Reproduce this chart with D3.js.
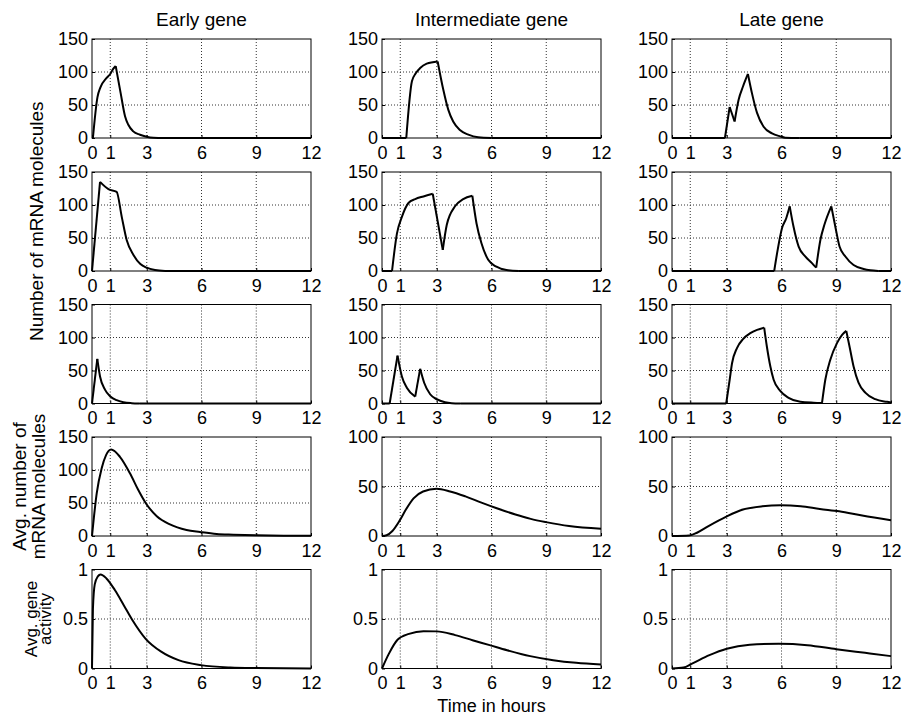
<!DOCTYPE html>
<html><head><meta charset="utf-8">
<script src="https://cdn.jsdelivr.net/npm/d3@7"></script>
<style>
body{margin:0;background:#fff;}
svg{display:block;font-family:"Liberation Sans",Arial,Helvetica,sans-serif;}
</style></head>
<body><svg id="c" width="903" height="718"></svg>
<script>
// ---- data ----
const columnTitles = ["Early gene", "Intermediate gene", "Late gene"];
const xTicks = [0, 1, 3, 6, 9, 12];
const yTicksCount = [0, 50, 100, 150];
const yTicksAvgIL = [0, 50, 100];
const yTicksActivity = [0, 0.5, 1];

const early1T = [0, 0.05, 0.3, 0.45, 0.8, 1.0, 1.17, 1.3, 1.57, 1.81, 1.99, 2.26, 2.63, 2.99, 3.36, 4, 12];
const early1V = [0, 0, 62, 76, 91, 97, 105, 109, 68, 33, 20, 10, 5, 2, 0.5, 0, 0];
const inter1T = [0, 1.33, 1.64, 1.85, 2.09, 2.45, 3.05, 3.36, 3.63, 3.9, 4.27, 4.73, 5.27, 6, 12];
const inter1V = [0, 0, 86, 98, 106, 112.6, 116, 73, 43, 25, 12, 5, 1, 0, 0];
const late1T = [0, 2.9, 3.16, 3.43, 3.65, 3.89, 4.16, 4.38, 4.66, 5.02, 5.48, 5.93, 6.2, 7, 12];
const late1V = [0, 0, 47, 25, 58, 78, 97, 68, 38, 17, 7, 2.5, 0.5, 0, 0];

const early2T = [0, 0.44, 0.9, 1.35, 1.63, 1.9, 2.28, 2.65, 3.0, 3.45, 4, 12];
const early2V = [0, 135, 124, 120, 82, 47, 24, 10.6, 5, 1.5, 0, 0];
const inter2T = [0, 0.55, 0.82, 1.09, 1.45, 1.82, 2.27, 2.78, 3.33, 3.55, 4.0, 4.45, 4.95, 5.18, 5.45, 5.82, 6.27, 6.82, 7.5, 12];
const inter2V = [0, 0, 57, 82, 103, 109, 113, 117, 32, 70, 98, 109, 114, 72, 42, 17, 6.5, 1.5, 0, 0];
const late2T = [0, 5.6, 5.79, 6.03, 6.26, 6.45, 6.66, 6.94, 7.3, 7.67, 7.9, 8.13, 8.35, 8.73, 8.95, 9.18, 9.5, 9.95, 10.5, 10.87, 11.3, 12];
const late2V = [0, 0, 32, 65, 80, 98, 67, 37, 22, 12, 5, 47, 70, 98, 67, 37, 22, 9, 3, 1, 0, 0];

const early3T = [0, 0.29, 0.44, 0.71, 0.99, 1.35, 1.72, 2.17, 2.6, 12];
const early3V = [0, 67.5, 41, 21, 11, 5, 2, 0.5, 0, 0];
const inter3T = [0, 0.42, 0.85, 1.09, 1.36, 1.82, 2.09, 2.31, 2.64, 3.0, 3.45, 3.82, 4.3, 12];
const inter3V = [0, 0, 72.5, 41, 24, 10.5, 52.5, 31.5, 14, 6.5, 2, 0.5, 0, 0];
const late3T = [0, 2.97, 3.16, 3.29, 3.56, 3.89, 4.29, 4.66, 5.05, 5.2, 5.39, 5.57, 5.93, 6.39, 7.03, 7.76, 8.22, 8.4, 8.67, 9.04, 9.32, 9.55, 9.73, 9.95, 10.22, 10.59, 11.14, 11.78, 12];
const late3V = [0, 0, 36, 61, 84, 97.5, 106.5, 111.5, 115, 86, 56, 36, 19, 8.5, 2.5, 1.2, 0.8, 36, 66, 91.5, 104, 110, 86, 56, 31.5, 16.5, 6.5, 2.5, 1.5];

const early4T = [0, 0.26, 0.53, 0.77, 1.05, 1.53, 2.08, 2.53, 2.94, 3.55, 4.27, 5.18, 5.92, 6.83, 7.75, 9.02, 10.5, 12];
const early4V = [0, 65, 102.5, 122.5, 131, 120, 95, 70, 50, 30, 17.5, 9, 6, 3, 2, 1, 0.5, 0.3];
const inter4T = [0, 0.25, 0.57, 0.95, 1.31, 1.73, 2.25, 2.99, 3.73, 4.57, 5.41, 6.25, 7.31, 8.15, 8.99, 10.25, 12];
const inter4V = [0, 0.7, 5, 15, 26.7, 38, 45, 47.7, 45, 40, 34, 28.3, 21.7, 17.3, 14, 10, 7.3];
const late4T = [0, 0.95, 1.37, 2.0, 2.95, 3.89, 4.95, 5.96, 7.05, 8.1, 9.16, 10.42, 12];
const late4V = [0, 0.5, 3.3, 10, 19.3, 26.7, 30, 31, 30, 27.3, 25, 20.7, 16];

const early5T = [0, 0.05, 0.15, 0.32, 0.47, 0.79, 1.26, 1.74, 2.21, 2.94, 3.79, 4.74, 5.97, 7.58, 9, 12];
const early5V = [0, 0.6, 0.85, 0.93, 0.95, 0.91, 0.79, 0.64, 0.49, 0.30, 0.17, 0.084, 0.034, 0.01, 0.004, 0];
const inter5T = [0, 0.38, 0.85, 1.48, 2.27, 3.0, 4.01, 4.96, 5.9, 6.85, 8.12, 9.38, 10.64, 12];
const inter5V = [0, 0.15, 0.29, 0.35, 0.377, 0.375, 0.337, 0.286, 0.236, 0.185, 0.125, 0.084, 0.057, 0.04];
const late5T = [0, 0.63, 1.1, 2.05, 3.0, 4.26, 5.84, 7.42, 9.0, 10.58, 12];
const late5V = [0, 0.01, 0.05, 0.135, 0.2, 0.24, 0.25, 0.236, 0.195, 0.158, 0.125];

// ---- layout ----
const colLeft = [92, 382, 672], panelW = 219;
const rowTop = [39, 172, 304.5, 437, 569.5], panelH = 99;
const FONT = 18;

const panels = [
  [[early1T, early1V], [inter1T, inter1V], [late1T, late1V]],
  [[early2T, early2V], [inter2T, inter2V], [late2T, late2V]],
  [[early3T, early3V], [inter3T, inter3V], [late3T, late3V]],
  [[early4T, early4V], [inter4T, inter4V], [late4T, late4V]],
  [[early5T, early5V], [inter5T, inter5V], [late5T, late5V]]
];
function yTicksFor(r, c) {
  if (r < 3) return yTicksCount;
  if (r === 3) return c === 0 ? yTicksCount : yTicksAvgIL;
  return yTicksActivity;
}

const svg = d3.select("#c");

panels.forEach((row, r) => row.forEach(([T, V], c) => {
  const ticksY = yTicksFor(r, c);
  const x = d3.scaleLinear().domain([0, 12]).range([colLeft[c], colLeft[c] + panelW]);
  const y = d3.scaleLinear().domain([0, d3.max(ticksY)]).range([rowTop[r] + panelH, rowTop[r]]);
  const g = svg.append("g");
  const narrow = r === 4;
  const tickFont = narrow ? '"Liberation Sans Narrow","Liberation Sans",Arial,sans-serif' : null;

  // grid
  g.append("g").selectAll("line").data(xTicks.filter(t => t > 0 && t < 12)).join("line")
    .attr("x1", d => x(d)).attr("x2", d => x(d)).attr("y1", y.range()[1]).attr("y2", y.range()[0])
    .attr("stroke", "#333").attr("stroke-width", 1).attr("stroke-dasharray", "1,2");
  g.append("g").selectAll("line").data(ticksY.slice(1, -1)).join("line")
    .attr("y1", d => y(d)).attr("y2", d => y(d)).attr("x1", x.range()[0]).attr("x2", x.range()[1])
    .attr("stroke", "#333").attr("stroke-width", 1).attr("stroke-dasharray", "1,2");

  // axes
  const xa = g.append("g").attr("transform", `translate(0,${y.range()[0]})`)
    .call(d3.axisBottom(x).tickValues(xTicks).tickSize(3).tickSizeOuter(0).tickPadding(5).tickFormat(d3.format("d")));
  const ya = g.append("g").attr("transform", `translate(${x.range()[0]},0)`)
    .call(d3.axisLeft(y).tickValues(ticksY).tickSize(-3).tickSizeOuter(0).tickPadding(4).tickFormat(d => String(d)));
  [xa, ya].forEach(a => {
    a.select(".domain").remove();
    a.selectAll(".tick line").attr("stroke", "#000");
    a.selectAll("text").attr("font-size", FONT).attr("fill", "#000");
    if (tickFont) a.selectAll("text").attr("font-family", tickFont);
  });
  xa.selectAll(".tick line").attr("y2", -3);
  ya.selectAll("text").attr("x", -4);

  // curve
  const pts = T.map((t, i) => [t, V[i]]);
  const line = d3.line().x(d => x(d[0])).y(d => y(d[1])).curve(d3.curveMonotoneX);
  if (r < 3) {
    // split at direction changes to keep switching corners sharp
    let segs = [], cur = [pts[0]], prevSign = null;
    for (let i = 1; i < pts.length; i++) {
      const s = Math.sign(pts[i][1] - pts[i - 1][1]);
      if (prevSign !== null && s !== prevSign) { segs.push(cur); cur = [pts[i - 1]]; }
      cur.push(pts[i]); prevSign = s;
    }
    segs.push(cur);
    segs.forEach(sg => g.append("path").attr("d", line(sg)).attr("fill", "none")
      .attr("stroke", "#000").attr("stroke-width", 2).attr("stroke-linejoin", "round"));
  } else {
    g.append("path").attr("d", line(pts)).attr("fill", "none")
      .attr("stroke", "#000").attr("stroke-width", 2);
  }

  // frame
  g.append("rect").attr("x", x.range()[0]).attr("y", y.range()[1])
    .attr("width", panelW).attr("height", panelH).attr("fill", "none").attr("stroke", "#000").attr("stroke-width", 1);

  if (r === 0) {
    svg.append("text").attr("x", colLeft[c] + panelW / 2).attr("y", 26)
      .attr("text-anchor", "middle").attr("font-size", 19).text(columnTitles[c]);
  }
}));

// y labels
svg.append("text").attr("transform", `translate(43,${(rowTop[0] + rowTop[2] + panelH) / 2}) rotate(-90)`)
  .attr("text-anchor", "middle").attr("font-size", 19).text("Number of mRNA molecules");
const l4 = svg.append("text").attr("transform", `translate(26,${rowTop[3] + panelH / 2}) rotate(-90)`)
  .attr("text-anchor", "middle").attr("font-size", 19);
l4.append("tspan").attr("x", 0).attr("dy", 0).text("Avg. number of");
l4.append("tspan").attr("x", 0).attr("dy", 19).text("mRNA molecules");
const l5 = svg.append("text").attr("transform", `translate(37,${rowTop[4] + panelH / 2}) rotate(-90)`)
  .attr("text-anchor", "middle").attr("font-size", 17)
  .attr("font-family", '"Liberation Sans Narrow","Liberation Sans",Arial,sans-serif');
l5.append("tspan").attr("x", 0).attr("dy", 0).text("Avg. gene");
l5.append("tspan").attr("x", 0).attr("dy", 14).text("activity");

svg.append("text").attr("x", colLeft[1] + panelW / 2).attr("y", 712)
  .attr("text-anchor", "middle").attr("font-size", 18)
  .attr("font-family", '"Liberation Sans Narrow","Liberation Sans",Arial,sans-serif')
  .text("Time in hours");
</script></body></html>
